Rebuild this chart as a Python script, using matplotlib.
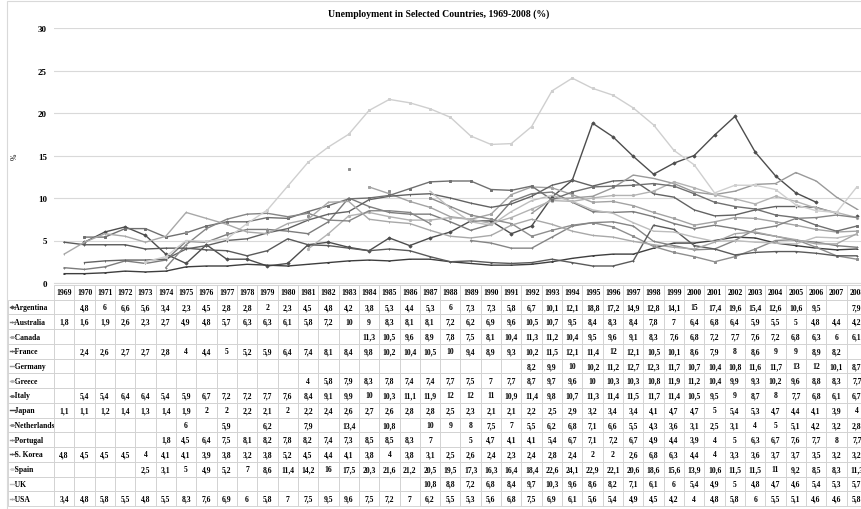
import numpy as np
import matplotlib
matplotlib.use("Agg")
import matplotlib.pyplot as plt
from matplotlib.table import Table
from matplotlib.lines import Line2D
from matplotlib.patches import Rectangle

plt.rcParams["font.family"] = ["Liberation Serif", "DejaVu Serif"]
plt.rcParams["font.weight"] = "bold"

nan = np.nan
years = list(range(1969, 2009))

argentina = [nan, 4.8, 6, 6.6, 5.6, 3.4, 2.3, 4.5, 2.8, 2.8, 2, 2.3, 4.5, 4.8, 4.2, 3.8, 5.3, 4.4, 5.3, 6,
             7.3, 7.3, 5.8, 6.7, 10.1, 12.1, 18.8, 17.2, 14.9, 12.8, 14.1, 15, 17.4, 19.6, 15.4, 12.6, 10.6, 9.5, nan, 7.9]
australia = [1.8, 1.6, 1.9, 2.6, 2.3, 2.7, 4.9, 4.8, 5.7, 6.3, 6.3, 6.1, 5.8, 7.2, 10, 9, 8.3, 8.1, 8.1, 7.2,
             6.2, 6.9, 9.6, 10.5, 10.7, 9.5, 8.4, 8.3, 8.4, 7.8, 7, 6.4, 6.8, 6.4, 5.9, 5.5, 5, 4.8, 4.4, 4.2]
canada = [nan] * 15 + [11.3, 10.5, 9.6, 8.9, 7.8, 7.5, 8.1, 10.4, 11.3, 11.2, 10.4, 9.5, 9.6, 9.1, 8.3, 7.6,
                       6.8, 7.2, 7.7, 7.6, 7.2, 6.8, 6.3, 6, 6.1]
france = [nan, 2.4, 2.6, 2.7, 2.7, 2.8, 4, 4.4, 5, 5.2, 5.9, 6.4, 7.4, 8.1, 8.4, 9.8, 10.2, 10.4, 10.5, 10,
          9.4, 8.9, 9.3, 10.2, 11.5, 12.1, 11.4, 12, 12.1, 10.5, 10.1, 8.6, 7.9, 8, 8.6, 9, 9, 8.9, 8.2, nan]
germany = [nan] * 23 + [8.2, 9.9, 10, 10.2, 11.2, 12.7, 12.3, 11.7, 10.7, 10.4, 10.8, 11.6, 11.7, 13, 12,
                        10.1, 8.7]
greece = [nan] * 12 + [4, 5.8, 7.9, 8.3, 7.8, 7.4, 7.4, 7.7, 7.5, 7, 7.7, 8.7, 9.7, 9.6, 10, 10.3, 10.3,
                       10.8, 11.9, 11.2, 10.4, 9.9, 9.3, 10.2, 9.6, 8.8, 8.3, 7.7]
italy = [nan, 5.4, 5.4, 6.4, 6.4, 5.4, 5.9, 6.7, 7.2, 7.2, 7.7, 7.6, 8.4, 9.1, 9.9, 10, 10.3, 11.1, 11.9, 12,
         12, 11, 10.9, 11.4, 9.8, 10.7, 11.3, 11.4, 11.5, 11.7, 11.4, 10.5, 9.5, 9, 8.7, 8, 7.7, 6.8, 6.1, 6.7]
japan = [1.1, 1.1, 1.2, 1.4, 1.3, 1.4, 1.9, 2, 2, 2.2, 2.1, 2, 2.2, 2.4, 2.6, 2.7, 2.6, 2.8, 2.8, 2.5,
         2.3, 2.1, 2.1, 2.2, 2.5, 2.9, 3.2, 3.4, 3.4, 4.1, 4.7, 4.7, 5, 5.4, 5.3, 4.7, 4.4, 4.1, 3.9, 4]
netherlands = [nan] * 6 + [6, nan, 5.9, nan, 6.2, nan, 7.9, nan, 13.4, nan, 10.8, nan,
                           10, 9, 8, 7.5, 7, 5.5, 6.2, 6.8, 7.1, 6.6, 5.5, 4.3, 3.6, 3.1, 2.5, 3.1, 4, 5,
                           5.1, 4.2, 3.2, 2.8]
portugal = [nan] * 5 + [1.8, 4.5, 6.4, 7.5, 8.1, 8.2, 7.8, 8.2, 7.4, 7.3, 8.5, 8.5, 8.3, 7, nan,
                        5, 4.7, 4.1, 4.1, 5.4, 6.7, 7.1, 7.2, 6.7, 4.9, 4.4, 3.9, 4, 5, 6.3, 6.7, 7.6, 7.7, 8, 7.7]
s_korea = [4.8, 4.5, 4.5, 4.5, 4, 4.1, 4.1, 3.9, 3.8, 3.2, 3.8, 5.2, 4.5, 4.4, 4.1, 3.8, 4, 3.8, 3.1, 2.5,
           2.6, 2.4, 2.3, 2.4, 2.8, 2.4, 2, 2, 2.6, 6.8, 6.3, 4.4, 4, 3.3, 3.6, 3.7, 3.7, 3.5, 3.2, 3.2]
spain = [nan] * 4 + [2.5, 3.1, 5, 4.9, 5.2, 7, 8.6, 11.4, 14.2, 16, 17.5, 20.3, 21.6, 21.2, 20.5, 19.5,
                     17.3, 16.3, 16.4, 18.4, 22.6, 24.1, 22.9, 22.1, 20.6, 18.6, 15.6, 13.9, 10.6, 11.5,
                     11.5, 11, 9.2, 8.5, 8.3, 11.3]
uk = [nan] * 18 + [10.8, 8.8, 7.2, 6.8, 8.4, 9.7, 10.3, 9.6, 8.6, 8.2, 7.1, 6.1, 6, 5.4, 4.9, 5, 4.8, 4.7,
                   4.6, 5.4, 5.3, 5.7]
usa = [3.4, 4.8, 5.8, 5.5, 4.8, 5.5, 8.3, 7.6, 6.9, 6, 5.8, 7, 7.5, 9.5, 9.6, 7.5, 7.2, 7, 6.2, 5.5,
       5.3, 5.6, 6.8, 7.5, 6.9, 6.1, 5.6, 5.4, 4.9, 4.5, 4.2, 4, 4.8, 5.8, 6, 5.5, 5.1, 4.6, 4.6, 5.8]

countries = ["Argentina", "Australia", "Canada", "France", "Germany", "Greece", "Italy", "Japan",
             "Netherlands", "Portugal", "S. Korea", "Spain", "UK", "USA"]
series = [argentina, australia, canada, france, germany, greece, italy, japan,
          netherlands, portugal, s_korea, spain, uk, usa]

# grayscale look of the original
colors = ["#4d4d4d", "#7c7c7c", "#a3a3a3", "#626262", "#9a9a9a", "#b3b3b3", "#707070", "#3e3e3e",
          "#8e8e8e", "#858585", "#5a5a5a", "#cfcfcf", "#bdbdbd", "#a8a8a8"]
markers = ["D", "+", "s", "|", "_", "o", "s", "_", "s", "+", "+", "s", "_", "|"]

W, H = 862, 510
fig = plt.figure(figsize=(W / 100, H / 100), dpi=100)

# chart area frame
fig.add_artist(Rectangle((7 / W, -0.05), 1.0, 1.05 - 2 / H, transform=fig.transFigure,
                         fill=False, edgecolor="#d9d9d9", lw=0.8))

ax_l, ax_r, ax_t, ax_b = 54, 867, 29, 284
ax = fig.add_axes([ax_l / W, 1 - ax_b / H, (ax_r - ax_l) / W, (ax_b - ax_t) / H])

x = np.arange(len(years))
for name, vals, c, m in zip(countries, series, colors, markers):
    ax.plot(x, vals, color=c, lw=1.0, marker=m, ms=1.6, mew=0.7, label=name)

ax.set_xlim(-0.5, len(years) - 0.5)
ax.set_ylim(0, 30)
ax.set_yticks(range(0, 31, 5))
ax.set_xticks([])
ax.tick_params(axis="y", length=0, pad=5, labelsize=6.5)
ax.yaxis.grid(True, color="#d9d9d9", lw=0.8)
ax.set_axisbelow(True)
for s in ["top", "right", "left"]:
    ax.spines[s].set_visible(False)
ax.spines["bottom"].set_color("#d9d9d9")
ax.set_ylabel("%", fontsize=5.5, labelpad=14)
fig.text(439 / W, 1 - 14 / H, "Unemployment in Selected Countries, 1969-2008 (%)",
         ha="center", va="center", fontsize=7, fontweight="bold")

# data table under the plot
tb_l, tb_t, tb_b = 8, 286, 507
label_w = ax_l - tb_l
col_w = (ax_r - ax_l) / len(years)
n_rows = len(countries) + 1
row_h = (tb_b - tb_t) / n_rows
ax_w, ax_h = ax_r - ax_l, ax_b - ax_t

tab = Table(ax, bbox=[(tb_l - ax_l) / ax_w, (ax_b - tb_b) / ax_h,
                      (ax_r - tb_l) / ax_w, (tb_b - tb_t) / ax_h])
edge = "#cfcfcf"


def fmt(v):
    if np.isnan(v):
        return ""
    return ("%g" % v).replace(".", ",")


corner = tab.add_cell(0, 0, label_w, row_h, text="", edgecolor=edge)
corner.visible_edges = ""
for j, yr in enumerate(years):
    tab.add_cell(0, j + 1, col_w, row_h, text=str(yr), loc="center", edgecolor=edge)
for i, (name, vals) in enumerate(zip(countries, series)):
    tab.add_cell(i + 1, 0, label_w, row_h, text="   " + name, loc="left", edgecolor=edge)
    for j, v in enumerate(vals):
        tab.add_cell(i + 1, j + 1, col_w, row_h, text=fmt(v), loc="center", edgecolor=edge)
for cell in tab.get_celld().values():
    cell.set_linewidth(0.6)
    cell.PAD = 0.03
tab.auto_set_font_size(False)
tab.set_fontsize(5.5)
ax.add_table(tab)

# legend keys in the row label column
for i, (c, m) in enumerate(zip(colors, markers)):
    yc = tb_t + (i + 1.5) * row_h
    fig.add_artist(Line2D([(tb_l + 2) / W, (tb_l + 7) / W], [1 - yc / H, 1 - yc / H],
                          color=c, lw=1.0, transform=fig.transFigure))
    fig.add_artist(Line2D([(tb_l + 4.5) / W], [1 - yc / H], color=c, marker=m, ms=1.6, mew=0.7,
                          transform=fig.transFigure))

fig.savefig("out.png", dpi=100)
